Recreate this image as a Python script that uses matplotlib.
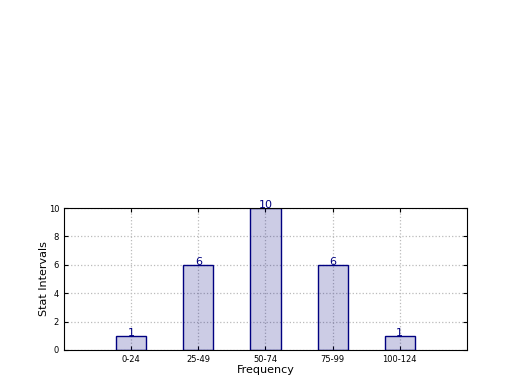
import matplotlib
matplotlib.use("Agg")
import matplotlib.pyplot as plt
import numpy as np

intervals = ["0-24", "25-49", "50-74", "75-99", "100-124"]
counts = [1, 6, 10, 6, 1]

fig = plt.figure(figsize=(5.2, 3.9), dpi=100)
ax = fig.add_axes([0.123, 0.1026, 0.775, 0.364])

x = np.arange(len(intervals))
ax.bar(x, counts, width=0.45, color="navy", alpha=0.2, edgecolor="none")
ax.bar(x, counts, width=0.45, fill=False, edgecolor="navy", linewidth=1)

for xi, c in zip(x, counts):
    ax.annotate(str(c), (xi, c), xytext=(0, -1.5), textcoords="offset points",
                ha="center", va="bottom", color="navy", fontsize=8)

ax.set_xlim(-1, 5)
ax.set_ylim(0, 10)
ax.set_xticks(x)
ax.set_xticklabels(intervals, fontsize=6)
ax.set_yticks(range(0, 11, 2))
ax.tick_params(axis="y", labelsize=6)
ax.tick_params(direction="in", length=3, top=True, right=True)
ax.grid(True, linestyle=":", color="#bbbbbb", linewidth=0.9)
ax.set_axisbelow(True)

ax.set_xlabel("Frequency", fontsize=8, labelpad=1)
ax.set_ylabel("Stat Intervals", fontsize=8, labelpad=0)

fig.savefig("out.png", dpi=100)
